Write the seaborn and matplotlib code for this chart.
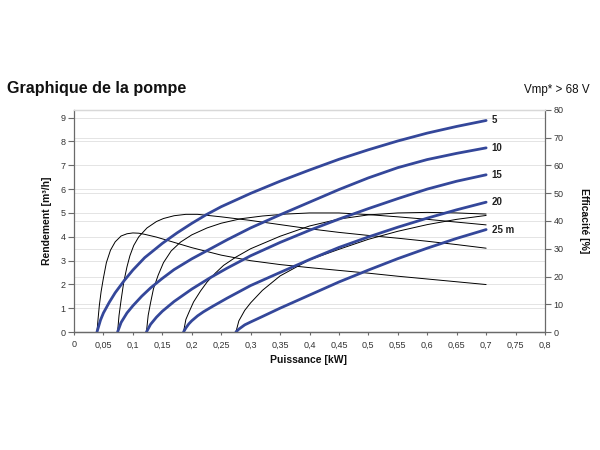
import numpy as np
import pandas as pd
import seaborn as sns
import matplotlib
matplotlib.use("Agg")
import matplotlib.pyplot as plt
from matplotlib.ticker import FuncFormatter, FixedLocator

# --------------------------------------------
# DATA
# --------------------------------------------

heads = ["5", "10", "15", "20", "25 m"]

# flow [m3/h] vs power [kW], one curve per head
flow_x = {
    "5": [0.039, 0.045, 0.05, 0.06, 0.07, 0.085, 0.1, 0.12, 0.15, 0.175, 0.2, 0.225,
          0.25, 0.3, 0.35, 0.4, 0.45, 0.5, 0.55, 0.6, 0.65, 0.7],
    "10": [0.074, 0.08, 0.09, 0.1, 0.115, 0.13, 0.15, 0.17, 0.2, 0.23, 0.26, 0.3,
           0.35, 0.4, 0.45, 0.5, 0.55, 0.6, 0.65, 0.7],
    "15": [0.123, 0.13, 0.14, 0.15, 0.17, 0.2, 0.23, 0.26, 0.3, 0.35, 0.4, 0.45,
           0.5, 0.55, 0.6, 0.65, 0.7],
    "20": [0.186, 0.19, 0.195, 0.2, 0.21, 0.22, 0.235, 0.26, 0.3, 0.35, 0.4, 0.45,
           0.5, 0.55, 0.6, 0.65, 0.7],
    "25 m": [0.275, 0.28, 0.29, 0.3, 0.32, 0.35, 0.4, 0.45, 0.5, 0.55, 0.6, 0.65, 0.7],
}
flow_y = {
    "5": [0, 0.5, 0.8, 1.25, 1.65, 2.15, 2.6, 3.12, 3.72, 4.16, 4.56, 4.93,
          5.26, 5.82, 6.33, 6.8, 7.25, 7.65, 8.02, 8.35, 8.63, 8.88],
    "10": [0, 0.4, 0.8, 1.1, 1.5, 1.85, 2.25, 2.62, 3.07, 3.47, 3.87, 4.37,
           4.92, 5.45, 5.98, 6.47, 6.9, 7.24, 7.5, 7.73],
    "15": [0, 0.32, 0.62, 0.87, 1.28, 1.8, 2.26, 2.68, 3.2, 3.76, 4.27, 4.74,
           5.18, 5.6, 6.0, 6.33, 6.6],
    "20": [0, 0.17, 0.34, 0.47, 0.68, 0.85, 1.07, 1.42, 1.95, 2.5, 3.04, 3.55,
           3.99, 4.4, 4.78, 5.13, 5.45],
    "25 m": [0, 0.12, 0.3, 0.42, 0.65, 1.0, 1.55, 2.1, 2.6, 3.08, 3.52, 3.93, 4.3],
}

# efficiency [%] vs power [kW]
eff_x = {
    "5": [0.039, 0.041, 0.043, 0.046, 0.05, 0.055, 0.062, 0.07, 0.08, 0.09, 0.1,
          0.11, 0.12, 0.14, 0.17, 0.2, 0.25, 0.3, 0.35, 0.4, 0.45, 0.5, 0.55,
          0.6, 0.65, 0.7],
    "10": [0.074, 0.0765, 0.08, 0.0845, 0.09, 0.095, 0.1015, 0.11, 0.124, 0.14,
           0.152, 0.17, 0.19, 0.21, 0.25, 0.3, 0.35, 0.4, 0.45, 0.5, 0.55, 0.6,
           0.65, 0.7],
    "15": [0.123, 0.126, 0.13, 0.135, 0.143, 0.152, 0.165, 0.181, 0.2, 0.226,
           0.25, 0.283, 0.32, 0.36, 0.4, 0.45, 0.5, 0.55, 0.6, 0.65, 0.7],
    "20": [0.186, 0.19, 0.195, 0.203, 0.215, 0.226, 0.24, 0.254, 0.275, 0.3,
           0.35, 0.4, 0.45, 0.5, 0.55, 0.6, 0.65, 0.7],
    "25 m": [0.275, 0.28, 0.29, 0.3, 0.32, 0.35, 0.4, 0.45, 0.5, 0.55, 0.6,
             0.65, 0.7],
}
eff_y = {
    "5": [0, 5, 9.5, 14.5, 19.5, 25.0, 29.5, 32.5, 34.6, 35.4, 35.7,
          35.6, 35.2, 34.2, 32.3, 30.4, 27.7, 25.7, 24.3, 23.2, 22.2, 21.2, 20.1,
          19.1, 18.1, 17.1],
    "10": [0, 6, 11.5, 18, 23.5, 27.5, 31.2, 34.3, 37.5, 39.8,
           40.9, 41.9, 42.4, 42.4, 41.5, 40.2, 38.7, 37.2, 35.9, 34.8, 33.8, 32.7,
           31.5, 30.2],
    "15": [0, 6, 10.5, 15.6, 20.5, 25, 29.2, 32.4, 35, 37.5,
           39.2, 40.8, 41.8, 42.5, 42.9, 42.9, 42.3, 41.5, 40.6, 39.6, 38.6],
    "20": [0, 4.5, 7, 10.8, 14.8, 18, 21.2, 24, 27, 30,
           34.5, 38.2, 40.7, 42.2, 42.9, 43.1, 42.9, 42.5],
    "25 m": [0, 4, 7.8, 10.5, 15, 20.2, 26.0, 29.8, 33.4, 36.3, 38.7,
             40.6, 42.0],
}

x_ticks = np.round(np.arange(0, 0.81, 0.05), 2)
left_ticks = list(range(0, 10))
right_ticks = list(range(0, 81, 10))

# --------------------------------------------
# STYLE
# --------------------------------------------

sns.set_style("white")
plt.rcParams["font.family"] = ["Liberation Sans", "DejaVu Sans"]

blue = "#34479a"
grid_c = "#e4e4e4"
axis_c = "#6a6a6a"
text_c = "#333333"
ymax_left = 9.32

fig = plt.figure(figsize=(6, 4.5), dpi=100)
ax = fig.add_axes([74 / 600, 1 - 332 / 450, 471 / 600, 222 / 450])
ax2 = ax.twinx()
# ax2 (grid + efficiency) below, ax (flow) on top
ax.set_zorder(ax2.get_zorder() + 1)
ax.patch.set_visible(False)

# efficiency curves on right axis
for h in heads:
    sns.lineplot(x=eff_x[h], y=eff_y[h], ax=ax2, color="black", lw=0.7,
                 sort=False, estimator=None)

# flow curves on left axis
for h in heads:
    sns.lineplot(x=flow_x[h], y=flow_y[h], ax=ax, color=blue, lw=2.0,
                 sort=False, estimator=None)
    ax.annotate(h, (flow_x[h][-1], flow_y[h][-1]), xytext=(4, 0),
                textcoords="offset points", va="center", ha="left",
                fontsize=7, fontweight="bold", color="#222222")

ax.set_xlim(0, 0.8)
ax.set_ylim(0, ymax_left)
ax2.set_ylim(0, 80)

ax.set_xticks(x_ticks)
ax.xaxis.set_major_formatter(FuncFormatter(lambda v, p: f"{v:g}".replace(".", ",")))
ax.set_yticks(left_ticks)
ax2.set_yticks(right_ticks)

# grid: x lines + both y scales, all on the bottom axes
ax2.yaxis.set_minor_locator(FixedLocator([t * 80 / ymax_left for t in left_ticks]))
ax2.grid(True, which="both", axis="y", color=grid_c, lw=0.7)
ax2.grid(True, which="major", axis="x", color=grid_c, lw=0.7)
ax2.tick_params(axis="y", which="minor", length=0)
ax.grid(False)

ax.tick_params(axis="both", labelsize=6.5, labelcolor=text_c, color=axis_c,
               width=0.8, direction="out")
ax.tick_params(axis="y", length=4, pad=2, left=True)
ax.tick_params(axis="x", length=2, pad=4, bottom=True)
ax2.tick_params(axis="y", which="major", labelsize=6.5, labelcolor=text_c,
                color=axis_c, length=4, width=0.8, pad=2, right=True)

for a in (ax, ax2):
    for s in a.spines.values():
        s.set_color(axis_c)
        s.set_linewidth(0.9)
    a.spines["top"].set_color("#d8d8d8")
    a.set_xlabel("")
    a.set_ylabel("")
ax2.spines["left"].set_visible(False)
ax.spines["right"].set_visible(False)

# --------------------------------------------
# TEXT
# --------------------------------------------

fig.text(7 / 600, 1 - 88 / 450, "Graphique de la pompe", fontsize=11.6,
         fontweight="bold", va="center", ha="left", color="#111111")
fig.text(590 / 600, 1 - 90 / 450, "Vmp* > 68 V", fontsize=8.4, va="center",
         ha="right", color="#111111")
fig.text(47 / 600, 1 - 221 / 450, "Rendement [m³/h]", rotation=90, fontsize=7.5,
         fontweight="bold", va="center", ha="center", color="#111111")
fig.text(584 / 600, 1 - 221 / 450, "Efficacité [%]", rotation=270, fontsize=7.5,
         fontweight="bold", va="center", ha="center", color="#111111")
fig.text(309 / 600, 1 - 360 / 450, "Puissance [kW]", fontsize=7.5,
         fontweight="bold", va="center", ha="center", color="#111111")

fig.savefig("out.png", dpi=100)
